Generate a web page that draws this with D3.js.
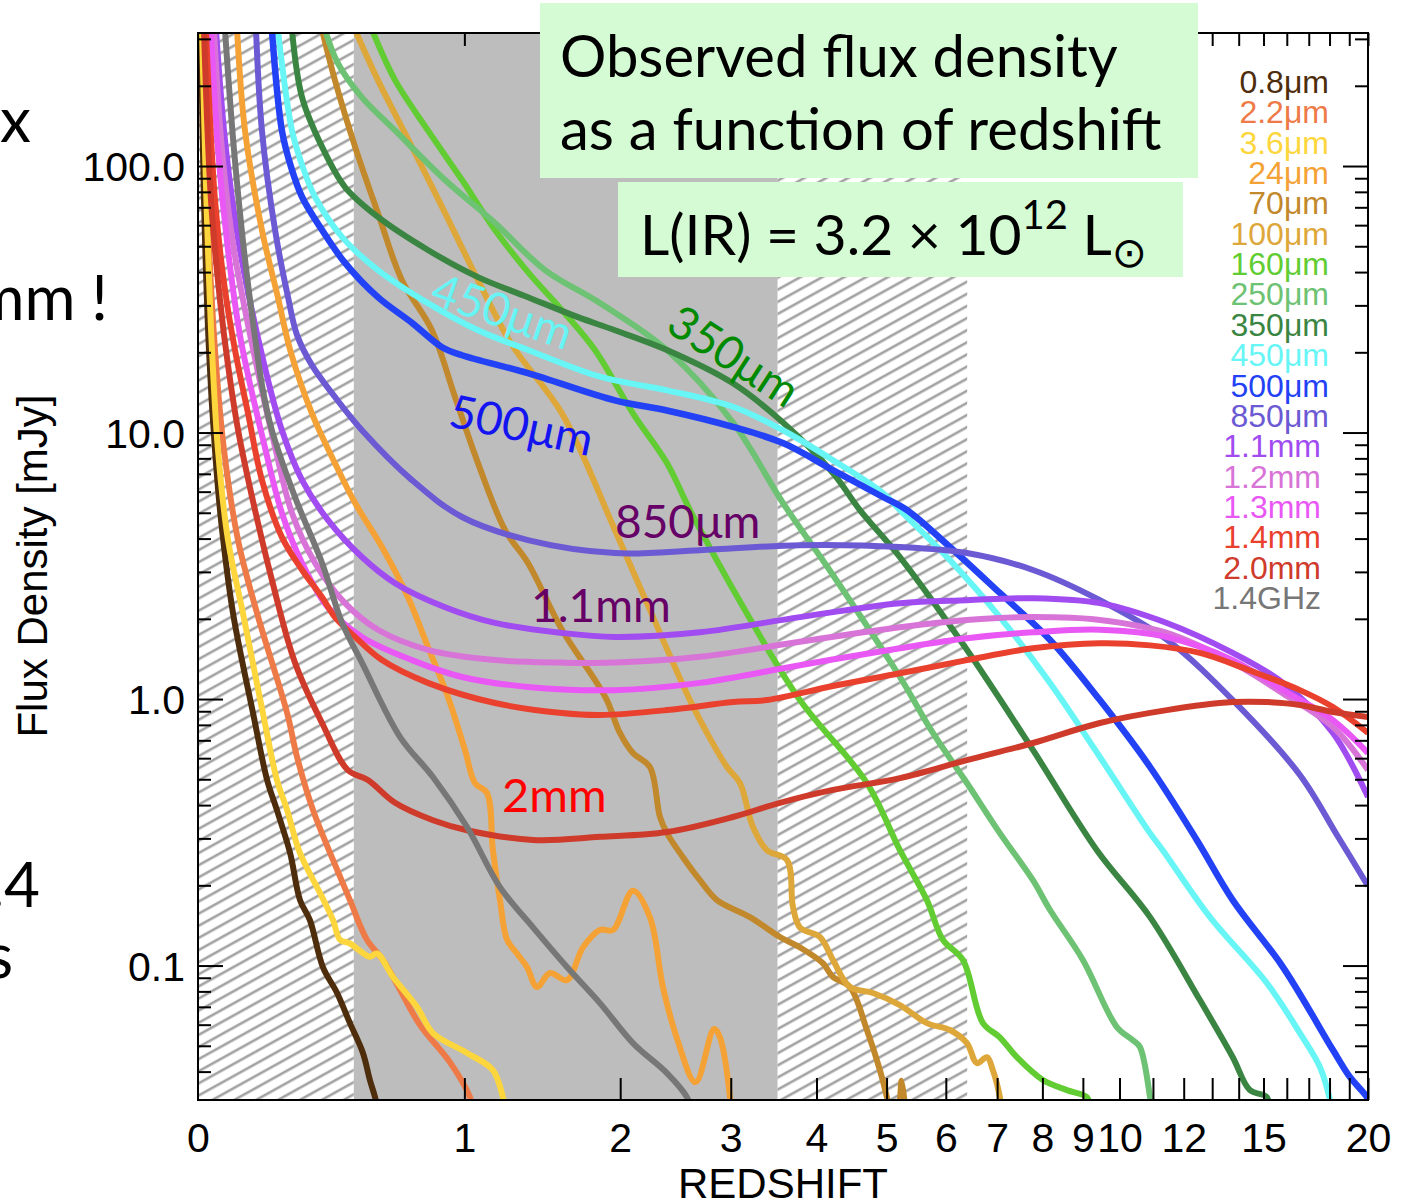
<!DOCTYPE html>
<html>
<head>
<meta charset="utf-8">
<script src="https://cdn.jsdelivr.net/npm/d3@7/dist/d3.min.js"></script>
<style>
  html, body { margin: 0; padding: 0; background: #fff; }
  svg { display: block; }
  .tick-label { font-family: "Liberation Sans", Arial, Helvetica, sans-serif; }
  .slide { font-family: Lato, "Open Sans", sans-serif; }
</style>
</head>
<body>
<svg id="chart" width="1410" height="1201"></svg>
<script>
// bands, in legend order
var bandNames = ['0.8μm', '2.2μm', '3.6μm', '24μm', '70μm', '100μm', '160μm', '250μm', '350μm',
  '450μm', '500μm', '850μm', '1.1mm', '1.2mm', '1.3mm', '1.4mm', '2.0mm', '1.4GHz']

// [redshift, observed flux density in mJy]
var flux0p8um = [[0.0078, 324], [0.0157, 74.5], [0.029, 20.4], [0.0452, 8.6], [0.0617, 4.7], [0.0954, 2.1],
  [0.154, 0.886], [0.197, 0.497], [0.228, 0.383], [0.271, 0.264], [0.304, 0.176], [0.338, 0.148],
  [0.384, 0.0987], [0.436, 0.0789], [0.485, 0.0608], [0.536, 0.047], [0.564, 0.0372], [0.585, 0.0321], [0.597, 0.0285]]
var flux2p2um = [[0.0131, 324], [0.0237, 74.5], [0.0452, 20.4], [0.070, 8.6], [0.1097, 3.95], [0.166, 2.1],
  [0.261, 0.886], [0.294, 0.606], [0.349, 0.383], [0.421, 0.249], [0.485, 0.176], [0.552, 0.125], [0.618, 0.105],
  [0.692, 0.081], [0.782, 0.0598], [0.926, 0.0434], [1.029, 0.0321], [1.045, 0.0285]]
var flux3p6um = [[0.0105, 324], [0.0184, 115], [0.0264, 48.4], [0.0371, 20.4], [0.0534, 8.6], [0.0812, 3.95],
  [0.124, 2.1], [0.184, 0.886], [0.228, 0.497], [0.261, 0.383], [0.304, 0.264], [0.374, 0.187], [0.421, 0.148],
  [0.447, 0.125], [0.485, 0.121], [0.564, 0.108], [0.593, 0.111], [0.661, 0.0906], [0.768, 0.0699],
  [0.843, 0.0558], [1.014, 0.047], [1.154, 0.0405], [1.211, 0.0321], [1.229, 0.0285]]
var flux24um = [[0.107, 324], [0.130, 136], [0.181, 57.5], [0.231, 32.2], [0.271, 20.4], [0.345, 11.8],
  [0.428, 7.68], [0.505, 5.44], [0.614, 3.72], [0.727, 2.41], [0.819, 1.57], [0.916, 1.02], [1.003, 0.644],
  [1.056, 0.484], [1.121, 0.444], [1.154, 0.271], [1.194, 0.176], [1.235, 0.125], [1.293, 0.111],
  [1.354, 0.0987], [1.416, 0.0831], [1.499, 0.0938], [1.612, 0.0882], [1.723, 0.117], [1.846, 0.136],
  [1.944, 0.136], [2.101, 0.191], [2.241, 0.152], [2.353, 0.0831], [2.477, 0.0534], [2.65, 0.0365],
  [2.83, 0.0578], [2.889, 0.0538], [2.992, 0.0321], [3.0, 0.0285]]
var flux70um = [[0.381, 324], [0.428, 210], [0.505, 118], [0.597, 66.6], [0.700, 37.3], [0.838, 24.2],
  [0.952, 13.6], [1.072, 7.68], [1.223, 4.31], [1.360, 3.24], [1.578, 1.82], [1.809, 1.18], [1.898, 0.991],
  [1.998, 0.746], [2.101, 0.627], [2.241, 0.556], [2.327, 0.361], [2.388, 0.314], [2.532, 0.255],
  [2.692, 0.209], [2.859, 0.176], [3.205, 0.152], [3.546, 0.128], [3.789, 0.117], [4.084, 0.102],
  [4.218, 0.0906], [4.454, 0.0831], [4.701, 0.0573], [4.897, 0.0405], [5.005, 0.0321], [5.05, 0.0285],
  [5.17, 0.0285], [5.24, 0.037], [5.30, 0.0285]]
var flux100um = [[0.505, 324], [0.597, 210], [0.745, 118], [0.902, 66.6], [1.072, 37.3], [1.264, 21.3],
  [1.578, 11.8], [1.959, 4.31], [2.241, 2.16], [2.597, 0.991], [2.760, 0.746], [2.961, 0.556], [3.097, 0.484],
  [3.238, 0.331], [3.395, 0.271], [3.630, 0.249], [3.703, 0.166], [3.789, 0.139], [4.045, 0.128],
  [4.218, 0.105], [4.454, 0.0831], [4.791, 0.0789], [5.212, 0.0711], [5.664, 0.0608], [6.075, 0.0573],
  [6.395, 0.0512], [6.590, 0.043], [6.790, 0.0453], [6.912, 0.0405], [7.057, 0.0321], [7.09, 0.0285]]
var flux160um = [[0.573, 324], [0.670, 210], [0.819, 136], [0.988, 88.6], [1.166, 57.5], [1.360, 40.0],
  [1.578, 28.8], [1.809, 20.4], [2.101, 11.8], [2.388, 7.68], [2.597, 5.12], [3.150, 2.16], [3.789, 0.991],
  [4.701, 0.484], [5.212, 0.271], [5.664, 0.176], [5.947, 0.125], [6.318, 0.105], [6.710, 0.0608],
  [7.057, 0.0538], [7.422, 0.0453], [8.011, 0.0372], [8.593, 0.0341], [9.105, 0.0321], [9.18, 0.03]]
var flux250um = [[0.392, 324], [0.439, 243], [0.532, 181], [0.670, 136], [0.902, 88.6], [1.166, 61.1],
  [1.467, 40.7], [1.846, 30.6], [2.388, 20.4], [3.023, 10.9], [3.582, 5.44], [4.218, 2.92], [5.212, 1.21],
  [5.769, 0.746], [6.395, 0.484], [7.057, 0.314], [7.781, 0.209], [8.177, 0.162], [9.0, 0.105],
  [9.925, 0.0588], [10.39, 0.0525], [10.60, 0.0495], [10.91, 0.0321], [10.97, 0.0285]]
var flux350um = [[0.277, 324], [0.311, 181], [0.381, 118], [0.466, 83.4], [0.597, 64.4], [0.819, 48.4],
  [1.072, 38.3], [1.360, 32.2], [1.688, 27.1], [1.959, 24.2], [2.388, 20.4], [3.023, 15.3], [3.582, 10.9],
  [4.218, 7.05], [4.598, 5.12], [5.212, 3.41], [6.395, 1.53], [7.781, 0.644], [9.371, 0.271], [10.91, 0.152],
  [12.56, 0.0742], [13.77, 0.0453], [14.44, 0.0341], [15.14, 0.0321], [15.25, 0.0285]]
var flux450um = [[0.231, 324], [0.277, 136], [0.311, 100.9], [0.356, 76.5], [0.455, 54.1], [0.597, 40.7],
  [0.819, 30.6], [1.072, 24.2], [1.360, 20.4], [1.846, 16.2], [2.388, 14.4], [3.023, 12.5], [3.582, 10.2],
  [4.218, 7.88], [4.943, 5.93], [5.212, 5.12], [6.075, 3.32], [7.057, 2.03], [8.177, 1.15], [9.452, 0.606],
  [10.91, 0.314], [11.31, 0.271], [12.92, 0.152], [15.14, 0.086], [16.59, 0.0558], [17.53, 0.0416],
  [18.02, 0.0313], [18.1, 0.0285]]
var flux500um = [[0.212, 324], [0.244, 136], [0.274, 99.1], [0.311, 76.5], [0.381, 57.5], [0.466, 43.3],
  [0.597, 32.2], [0.745, 25.8], [0.887, 20.9], [0.988, 19.5], [1.360, 16.7], [1.959, 13.2], [2.388, 12.1],
  [3.023, 10.5], [3.582, 9.13], [4.218, 7.23], [4.943, 5.73], [5.326, 5.12], [6.075, 3.72], [7.057, 2.5],
  [8.177, 1.67], [9.452, 0.991], [10.91, 0.556], [12.45, 0.296], [13.77, 0.176], [15.83, 0.0987],
  [18.17, 0.0482], [19.03, 0.0382], [19.94, 0.0321], [20.1, 0.03]]
var flux850um = [[0.163, 324], [0.181, 136], [0.222, 57.5], [0.264, 32.2], [0.294, 23.2], [0.345, 17.9],
  [0.428, 13.6], [0.532, 10.2], [0.745, 6.63], [0.988, 4.82], [1.360, 3.95], [1.959, 3.53], [2.692, 3.62],
  [3.789, 3.78], [5.212, 3.72], [6.395, 3.53], [7.781, 3.05], [9.452, 2.35], [11.44, 1.67], [13.77, 0.991],
  [16.59, 0.519], [18.37, 0.309], [20.0, 0.199]]
var flux1p1mm = [[0.0479, 324], [0.0755, 115], [0.1155, 48.4], [0.187, 18.2], [0.244, 10.2], [0.311, 6.63],
  [0.402, 4.7], [0.532, 3.41], [0.670, 2.72], [0.902, 2.21], [1.166, 1.93], [1.578, 1.77], [1.959, 1.71],
  [2.692, 1.78], [3.789, 2.03], [5.212, 2.29], [6.395, 2.35], [7.781, 2.39], [9.452, 2.29], [11.44, 1.93],
  [13.77, 1.49], [15.83, 1.15], [18.17, 0.746], [20.0, 0.429]]
var flux1p2mm = [[0.0425, 324], [0.0644, 115], [0.0982, 48.4], [0.163, 18.2], [0.222, 8.82], [0.277, 4.99],
  [0.356, 3.24], [0.466, 2.29], [0.597, 1.82], [0.819, 1.53], [1.166, 1.40], [1.578, 1.37], [1.959, 1.37],
  [2.692, 1.44], [3.789, 1.64], [5.212, 1.86], [6.395, 1.98], [7.781, 2.03], [9.452, 1.98], [11.44, 1.77],
  [13.77, 1.37], [15.83, 1.05], [18.17, 0.785], [20.0, 0.541]]
var flux1p3mm = [[0.0344, 324], [0.0534, 115], [0.0812, 48.4], [0.118, 22.2], [0.190, 8.82], [0.244, 4.99],
  [0.311, 3.24], [0.402, 2.21], [0.532, 1.71], [0.745, 1.40], [0.988, 1.21], [1.360, 1.11], [1.959, 1.08],
  [2.692, 1.15], [3.789, 1.34], [5.212, 1.55], [6.395, 1.69], [7.781, 1.78], [9.452, 1.82], [11.44, 1.71],
  [13.77, 1.40], [15.83, 1.08], [18.17, 0.834], [20.0, 0.627]]
var flux1p4mm = [[0.021, 324], [0.0452, 74.5], [0.0727, 34.3], [0.101, 20.4], [0.139, 11.8], [0.181, 6.63],
  [0.244, 4.05], [0.311, 3.05], [0.381, 2.41], [0.428, 2.03], [0.505, 1.71], [0.614, 1.40], [0.819, 1.15],
  [1.166, 0.966], [1.578, 0.886], [1.846, 0.871], [2.388, 0.909], [3.023, 0.974], [3.395, 0.991],
  [4.218, 1.119], [5.212, 1.25], [6.395, 1.40], [7.781, 1.55], [9.452, 1.62], [10.91, 1.59], [12.56, 1.49],
  [14.44, 1.28], [16.59, 1.08], [18.17, 0.933], [20.0, 0.746]]
var flux2p0mm = [[0.0157, 324], [0.0344, 74.5], [0.0589, 31.4], [0.0812, 17.9], [0.110, 10.2], [0.151, 5.73],
  [0.212, 2.80], [0.287, 1.37], [0.381, 0.813], [0.477, 0.541], [0.556, 0.497], [0.670, 0.408], [0.843, 0.351],
  [1.014, 0.322], [1.391, 0.296], [1.846, 0.304], [2.388, 0.317], [3.023, 0.361], [3.546, 0.408],
  [4.218, 0.456], [5.212, 0.505], [6.395, 0.590], [7.781, 0.684], [9.452, 0.813], [11.44, 0.909],
  [13.77, 0.974], [15.14, 0.974], [16.59, 0.950], [18.17, 0.894], [20.0, 0.856]]
var flux1p4GHz = [[0.0727, 324], [0.0982, 115], [0.127, 48.4], [0.157, 24.2], [0.184, 14.4], [0.212, 10.2],
  [0.287, 5.73], [0.381, 3.24], [0.455, 1.93], [0.532, 1.37], [0.692, 0.72], [0.843, 0.51], [1.014, 0.331],
  [1.194, 0.197], [1.391, 0.139], [1.612, 0.0987], [1.846, 0.0723], [2.101, 0.0512], [2.388, 0.0395],
  [2.569, 0.0321], [2.61, 0.0285]]

var bandFlux = [flux0p8um, flux2p2um, flux3p6um, flux24um, flux70um, flux100um, flux160um, flux250um,
  flux350um, flux450um, flux500um, flux850um, flux1p1mm, flux1p2mm, flux1p3mm, flux1p4mm, flux2p0mm, flux1p4GHz]

// redshift ranges of the shaded bands
var hatchLow = [0, 0.5]
var grayBand = [0.5, 3.52]
var hatchHigh = [3.52, 6.4]

var xTickValues = [0, 1, 2, 3, 4, 5, 6, 7, 8, 9, 10, 12, 15, 20]
var xMinorTicks = d3.range(1, 21)
var yTickValues = [0.1, 1, 10, 100]
var yTickLabels = ['0.1', '1.0', '10.0', '100.0']

var bandColors = ['#4e2d0c', '#ee7a47', '#fcd63c', '#f4a236', '#c2892c', '#dea73a', '#62cc33', '#6dc273',
  '#3b8542', '#68f5f5', '#2342f6', '#6b5ad4', '#a14cf0', '#d874d8', '#e957f5', '#e9412e', '#cf3b2b', '#777777']

var plotL = 198, plotR = 1368, plotT = 33, plotB = 1100

var x1z = d3.scaleLog().domain([1, 21]).range([plotL, plotR])
function xz(z) { return x1z(1 + z) }
var y = d3.scaleLog().domain([0.0313, 315.6]).range([plotB, plotT])

var svg = d3.select('#chart')
var defs = svg.append('defs')
defs.append('clipPath').attr('id', 'plot-clip').append('rect')
  .attr('x', plotL).attr('y', plotT).attr('width', plotR - plotL).attr('height', plotB - plotT)

var hatch = defs.append('pattern').attr('id', 'hatch')
  .attr('patternUnits', 'userSpaceOnUse')
  .attr('width', 24).attr('height', 10.6)
  .attr('patternTransform', 'rotate(-29)')
hatch.append('rect').attr('width', 24).attr('height', 10.6).attr('fill', '#fff')
hatch.append('line').attr('x1', 0).attr('x2', 24).attr('y1', 5).attr('y2', 5)
  .attr('stroke', '#a2a2a2').attr('stroke-width', 2.6)

function band(range, fill) {
  svg.append('rect')
    .attr('x', xz(range[0])).attr('y', plotT)
    .attr('width', xz(range[1]) - xz(range[0])).attr('height', plotB - plotT)
    .attr('fill', fill)
}
band(hatchLow, 'url(#hatch)')
band(grayBand, '#bdbdbd')
band(hatchHigh, 'url(#hatch)')

var line = d3.line()
  .x(function(d) { return xz(d[0]) })
  .y(function(d) { return y(d[1]) })
  .curve(d3.curveCatmullRom.alpha(0.5))

svg.append('g').attr('clip-path', 'url(#plot-clip)')
  .selectAll('path').data(bandFlux).enter().append('path')
  .attr('d', line)
  .attr('fill', 'none')
  .attr('stroke', function(d, i) { return bandColors[i] })
  .attr('stroke-width', function(d, i) { return i === 10 ? 6.5 : 6 })
  .attr('stroke-linejoin', 'round')

// axes, ticks pointing inward
function cleanAxis(g) {
  g.select('.domain').remove()
  g.selectAll('.tick line').attr('stroke', '#000').attr('stroke-width', 2)
}
var yMinor = []
;[0.01, 0.1, 1, 10, 100].forEach(function(dec) {
  for (var k = 2; k <= 9; k++) {
    var v = dec * k
    if (v > 0.0313 && v < 315.6) yMinor.push(v)
  }
})

var xTicks1z = xMinorTicks.map(function(z) { return 1 + z })
svg.append('g').attr('transform', 'translate(0,' + plotB + ')')
  .call(d3.axisBottom(x1z).tickValues(xTicks1z).tickSizeInner(-22).tickSizeOuter(0).tickFormat(''))
  .call(cleanAxis)
svg.append('g').attr('transform', 'translate(0,' + plotT + ')')
  .call(d3.axisTop(x1z).tickValues(xTicks1z).tickSizeInner(-13).tickSizeOuter(0).tickFormat(''))
  .call(cleanAxis)

var xLabels = svg.append('g').attr('transform', 'translate(0,' + plotB + ')')
  .call(d3.axisBottom(x1z).tickValues(xTickValues.map(function(z) { return 1 + z }))
    .tickSize(0).tickPadding(23).tickFormat(function(d) { return String(Math.round(d - 1)) }))
xLabels.select('.domain').remove()
xLabels.attr('font-family', null).attr('font-size', null)
xLabels.selectAll('text').attr('class', 'tick-label').attr('font-size', 41).attr('fill', '#000')

;[[d3.axisLeft, plotL], [d3.axisRight, plotR]].forEach(function(a) {
  svg.append('g').attr('transform', 'translate(' + a[1] + ',0)')
    .call(a[0](y).tickValues(yTickValues).tickSizeInner(-25).tickSizeOuter(0).tickFormat(''))
    .call(cleanAxis)
  svg.append('g').attr('transform', 'translate(' + a[1] + ',0)')
    .call(a[0](y).tickValues(yMinor).tickSizeInner(-13).tickSizeOuter(0).tickFormat(''))
    .call(cleanAxis)
})

var yLabels = svg.append('g').attr('transform', 'translate(' + plotL + ',0)')
  .call(d3.axisLeft(y).tickValues(yTickValues).tickSize(0).tickPadding(13)
    .tickFormat(function(d, i) { return yTickLabels[i] }))
yLabels.select('.domain').remove()
yLabels.attr('font-family', null).attr('font-size', null)
yLabels.selectAll('text').attr('class', 'tick-label').attr('font-size', 41).attr('fill', '#000')
  .attr('dy', '0.36em')

svg.append('rect').attr('x', plotL).attr('y', plotT).attr('width', plotR - plotL).attr('height', plotB - plotT)
  .attr('fill', 'none').attr('stroke', '#000').attr('stroke-width', 2)

svg.append('text').attr('class', 'tick-label').attr('x', (plotL + plotR) / 2).attr('y', 1198)
  .attr('text-anchor', 'middle').attr('font-size', 42).text('REDSHIFT')
svg.append('text').attr('class', 'tick-label')
  .attr('transform', 'translate(47,566) rotate(-90)')
  .attr('text-anchor', 'middle').attr('font-size', 42).text('Flux Density [mJy]')

// legend
svg.append('g').selectAll('text').data(bandNames).enter().append('text')
  .attr('class', 'tick-label')
  .attr('x', function(d) { return d.indexOf('μ') >= 0 ? 1329 : 1321 })
  .attr('y', function(d, i) { return 93 + i * 30.35 })
  .attr('text-anchor', 'end').attr('font-size', 32)
  .attr('fill', function(d, i) { return bandColors[i] })
  .text(function(d) { return d })

// labels written on the curves
var notes = svg.append('g').attr('class', 'slide').attr('font-size', 46)
notes.append('text').attr('transform', 'translate(428,303) rotate(19)').attr('fill', '#66f4f4').text('450μm')
notes.append('text').attr('transform', 'translate(447,426) rotate(12)').attr('fill', '#1414f0').text('500μm')
notes.append('text').attr('transform', 'translate(664,330) rotate(33)').attr('fill', '#008a00').text('350μm')
notes.append('text').attr('x', 615).attr('y', 538).attr('fill', '#660066').text('850μm')
notes.append('text').attr('x', 531).attr('y', 622).attr('fill', '#660066').text('1.1mm')
notes.append('text').attr('x', 502).attr('y', 812).attr('fill', '#ff0000').attr('font-size', 47).text('2mm')

// slide boxes
var slide = svg.append('g').attr('class', 'slide').attr('fill', '#000')
slide.append('rect').attr('x', 540).attr('y', 3).attr('width', 658).attr('height', 175).attr('fill', '#d4fbd4')
slide.append('rect').attr('x', 618).attr('y', 182).attr('width', 565).attr('height', 95).attr('fill', '#d4fbd4')
slide.append('text').attr('x', 560).attr('y', 77).attr('font-size', 58).text('Observed flux density')
slide.append('text').attr('x', 560).attr('y', 150).attr('font-size', 58).text('as a function of redshift')
var lir = slide.append('text').attr('x', 640).attr('y', 255).attr('font-size', 57)
lir.append('tspan').text('L(IR) = 3.2 × 10')
lir.append('tspan').attr('dy', -26).attr('font-size', 40).text('12')
lir.append('tspan').attr('dy', 26).text(' L')
lir.append('tspan').attr('dy', 12).attr('font-size', 42).attr('font-family', 'DejaVu Sans').text('⊙')

// cut-off slide text on the left
slide.append('text').attr('x', 31).attr('y', 142).attr('text-anchor', 'end').attr('font-size', 62).text('x')
slide.append('text').attr('x', 108).attr('y', 320).attr('text-anchor', 'end').attr('font-size', 62).text('mm !')
slide.append('text').attr('x', 40).attr('y', 907).attr('text-anchor', 'end').attr('font-size', 62).text('1.4')
slide.append('text').attr('x', 13).attr('y', 978).attr('text-anchor', 'end').attr('font-size', 62).text('s')
</script>
</body>
</html>
